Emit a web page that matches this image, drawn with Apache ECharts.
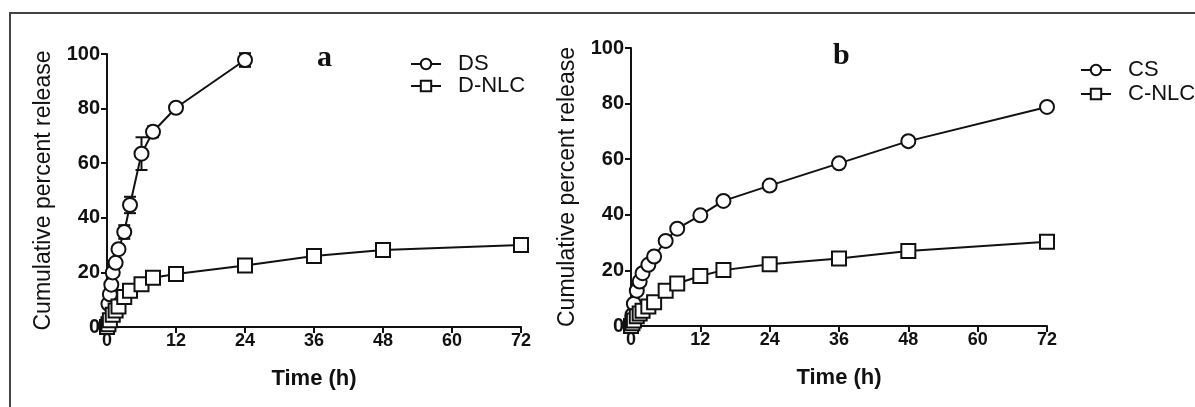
<!DOCTYPE html>
<html><head><meta charset="utf-8">
<script src="https://cdn.jsdelivr.net/npm/echarts@6/dist/echarts.min.js"></script>
<style>html,body{margin:0;padding:0;background:#fff}#c{width:1195px;height:407px}</style>
</head><body><div id="c"></div>
<script>
// Panel a
const dsTime  = [0, 0.25, 0.5, 0.75, 1, 1.5, 2, 3, 4, 6, 8, 12, 24];
const dsVal   = [0, 8.5, 12, 15.5, 20, 23.5, 28.5, 34.8, 44.7, 63.5, 71.5, 80.3, 97.8];
const dsErr   = [0, 0.5, 0.5, 0.5, 1, 1, 1, 2.5, 3, 6, 2, 1.5, 2.5];
const dnlcTime = [0, 0.25, 0.5, 1, 1.5, 2, 3, 4, 6, 8, 12, 24, 36, 48, 72];
const dnlcVal  = [0, 1, 2.5, 4.5, 6, 7.5, 11, 13.3, 15.7, 18, 19.4, 22.5, 26, 28.2, 30];
const dnlcErr  = [0, 0.3, 0.3, 0.5, 0.5, 0.5, 0.5, 0.5, 0.8, 1, 0.8, 0.8, 0.8, 0.8, 0.8];
// Panel b
const csTime  = [0, 0.25, 0.5, 1, 1.5, 2, 3, 4, 6, 8, 12, 16, 24, 36, 48, 72];
const csVal   = [0, 4, 8, 12.7, 16, 19, 22, 25, 30.6, 35, 39.8, 45, 50.5, 58.5, 66.5, 78.8];
const cnlcTime = [0, 0.25, 0.5, 1, 1.5, 2, 3, 4, 6, 8, 12, 16, 24, 36, 48, 72];
const cnlcVal  = [0, 1, 2, 3.5, 4.5, 5.5, 7, 8.5, 12.7, 15.3, 18, 20.1, 22.2, 24.3, 27, 30.3];
// Axis ticks
const xTicks = [0, 12, 24, 36, 48, 60, 72];
const yTicks = [0, 20, 40, 60, 80, 100];

const SANS = "'Liberation Sans', Arial, sans-serif";
const SERIF = "'Liberation Serif', 'Times New Roman', serif";

function pairs(t, v) { return t.map((x, i) => [x, v[i]]); }
function errData(t, v, e) { return t.map((x, i) => [x, v[i] - e[i], v[i] + e[i]]); }

function xAx(gi) {
  return {
    gridIndex: gi, type: 'value', min: xTicks[0], max: xTicks[xTicks.length - 1], interval: 12,
    name: 'Time (h)', nameLocation: 'middle', nameGap: 41,
    nameTextStyle: { fontFamily: SANS, fontWeight: 'bold', fontSize: 22, color: '#111' },
    axisLine: { show: true, onZero: false, lineStyle: { color: '#111', width: 2 } },
    axisTick: { show: true, length: 6, lineStyle: { color: '#111', width: 2 } },
    axisLabel: { fontFamily: SANS, fontWeight: 'bold', fontSize: 18, color: '#111', margin: 5 },
    splitLine: { show: false }
  };
}
function yAx(gi) {
  return {
    gridIndex: gi, type: 'value', min: yTicks[0], max: yTicks[yTicks.length - 1], interval: 20,
    name: 'Cumulative percent release', nameLocation: 'middle', nameGap: 52,
    nameTextStyle: { fontFamily: SANS, fontSize: 23, color: '#111' },
    axisLine: { show: true, onZero: false, lineStyle: { color: '#111', width: 2 } },
    axisTick: { show: true, length: 6, lineStyle: { color: '#111', width: 2 } },
    axisLabel: { fontFamily: SANS, fontWeight: 'bold', fontSize: 20, color: '#111', margin: 7 },
    splitLine: { show: false }
  };
}
function lineSeries(name, data, sym, gi, size) {
  return {
    name, type: 'line', xAxisIndex: gi, yAxisIndex: gi, data,
    symbol: sym, symbolSize: size, showAllSymbol: true,
    lineStyle: { color: '#111', width: 2 },
    itemStyle: { color: '#fff', borderColor: '#111', borderWidth: 2 },
    z: 3, animation: false
  };
}
function errSeries(data, gi) {
  return {
    type: 'custom', xAxisIndex: gi, yAxisIndex: gi, data, z: 2, silent: true, animation: false,
    renderItem: function (params, api) {
      const x = api.value(0), lo = api.value(1), hi = api.value(2);
      const p1 = api.coord([x, lo]), p2 = api.coord([x, hi]);
      const w = 6;
      const st = { stroke: '#111', lineWidth: 2 };
      return { type: 'group', children: [
        { type: 'line', shape: { x1: p1[0], y1: p1[1], x2: p2[0], y2: p2[1] }, style: st },
        { type: 'line', shape: { x1: p1[0] - w, y1: p1[1], x2: p1[0] + w, y2: p1[1] }, style: st },
        { type: 'line', shape: { x1: p2[0] - w, y1: p2[1], x2: p2[0] + w, y2: p2[1] }, style: st }
      ]};
    }
  };
}

const legendText = { fontFamily: SANS, fontSize: 22, color: '#111', lineHeight: 22, padding: [0, 0, 0, 12] };

const chart = echarts.init(document.getElementById('c'), null, { renderer: 'canvas' });
chart.setOption({
  backgroundColor: '#fff',
  animation: false,
  graphic: [{ type: 'rect', shape: { x: 10, y: 13, width: 1300, height: 500 },
              style: { fill: 'none', stroke: '#444', lineWidth: 2 }, silent: true }],
  title: [
    { text: 'a', left: 312, top: 38, textStyle: { fontFamily: SERIF, fontWeight: 'bold', fontSize: 30, color: '#111' } },
    { text: 'b', left: 828, top: 36, textStyle: { fontFamily: SERIF, fontWeight: 'bold', fontSize: 30, color: '#111' } }
  ],
  grid: [
    { left: 107, top: 54, width: 414, height: 273 },
    { left: 631, top: 48, width: 416, height: 278 }
  ],
  xAxis: [xAx(0), xAx(1)],
  yAxis: [yAx(0), yAx(1)],
  legend: [
    { data: ['DS', 'D-NLC'], orient: 'vertical', left: 405, top: 48, itemWidth: 30, itemHeight: 13, itemGap: 0,
      textStyle: legendText },
    { data: ['CS', 'C-NLC'], orient: 'vertical', left: 1075, top: 54, itemWidth: 30, itemHeight: 13, itemGap: 2,
      textStyle: legendText }
  ],
  series: [
    errSeries(errData(dsTime, dsVal, dsErr), 0),
    errSeries(errData(dnlcTime, dnlcVal, dnlcErr), 0),
    lineSeries('DS', pairs(dsTime, dsVal), 'circle', 0, 14),
    lineSeries('D-NLC', pairs(dnlcTime, dnlcVal), 'rect', 0, 14),
    lineSeries('CS', pairs(csTime, csVal), 'circle', 1, 14),
    lineSeries('C-NLC', pairs(cnlcTime, cnlcVal), 'rect', 1, 14)
  ]
});
</script></body></html>
